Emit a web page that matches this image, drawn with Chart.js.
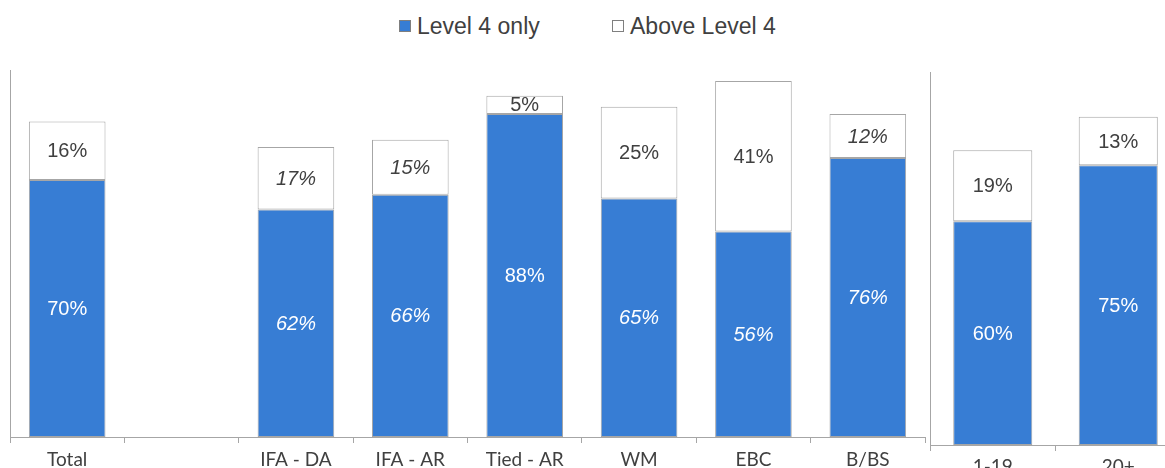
<!DOCTYPE html>
<html>
<head>
<meta charset="utf-8">
<script src="https://cdn.jsdelivr.net/npm/chart.js@4.4.1/dist/chart.umd.min.js"></script>
<style>
  html, body { margin: 0; padding: 0; background: #fff; overflow: hidden; }
  #page { position: relative; width: 1165px; height: 468px; overflow: hidden; }
  #legend { position: absolute; top: 13px; left: 0; width: 1165px; height: 30px;
            font-family: "Liberation Sans", Arial, sans-serif; font-size: 23px; color: #404040; }
  .item { position: absolute; top: 0; white-space: nowrap; }
  .box { display: inline-block; width: 10px; height: 10px; margin-right: 6px; vertical-align: 2px; }
  #mainWrap { position: absolute; left: 0; top: 0; width: 928px; height: 476px; }
  #sizeWrap { position: absolute; left: 926px; top: 0; width: 260px; height: 490px; }
</style>
</head>
<body>
<div id="page">
  <div id="legend">
    <span class="item" style="left:399px"><span class="box" style="background:#377DD4;border:1px solid #7f7f7f"></span>Level 4 only</span>
    <span class="item" style="left:612px"><span class="box" style="background:#fff;border:1px solid #7f7f7f"></span>Above Level 4</span>
  </div>
  <div id="mainWrap"><canvas id="mainChart"></canvas></div>
  <div id="sizeWrap"><canvas id="sizeChart"></canvas></div>
</div>
<script>
// data
const categoriesMain = ['Total', '', 'IFA - DA', 'IFA - AR', 'Tied - AR', 'WM', 'EBC', 'B/BS'];
const level4Main = [70, null, 62, 66, 88, 65, 56, 76];
const aboveMain = [16, null, 17, 15, 5, 25, 41, 12];

const categoriesSize = ['1-19', '20+'];
const level4Size = [60, 75];
const aboveSize = [19, 13];

// which labels are set in italics
const italicLevel4Main = [false, false, true, true, false, true, true, true];
const italicAboveMain = [false, false, true, true, false, false, false, true];

const BLUE = '#377DD4';
const EDGE = '#A6A6A6';
const AXIS = '#A6A6A6';

const segmentLabels = {
  id: 'segmentLabels',
  afterDatasetsDraw(chart) {
    const ctx = chart.ctx;
    ctx.save();
    ctx.textAlign = 'center';
    ctx.textBaseline = 'middle';
    chart.data.datasets.forEach((ds, i) => {
      const meta = chart.getDatasetMeta(i);
      meta.data.forEach((bar, j) => {
        const v = ds.data[j];
        if (v == null) return;
        const p = bar.getProps(['x', 'y', 'base'], true);
        const italic = ds.italic && ds.italic[j];
        ctx.font = (italic ? 'italic ' : '') + '20px "Liberation Sans", Arial, sans-serif';
        ctx.fillStyle = ds.labelColor;
        ctx.fillText(v + '%', p.x, (p.y + p.base) / 2 + 1);
      });
    });
    ctx.restore();
  }
};

function buildChart(canvasId, labels, level4, above, barPct, italic4, italicA, pad, tickPad) {
  const ctx = document.getElementById(canvasId).getContext('2d');
  return new Chart(ctx, {
    type: 'bar',
    data: {
      labels: labels,
      datasets: [
        {
          label: 'Level 4 only',
          data: level4,
          backgroundColor: BLUE,
          borderColor: EDGE,
          borderWidth: 1,
          borderSkipped: false,
          labelColor: '#ffffff',
          italic: italic4
        },
        {
          label: 'Above Level 4',
          data: above,
          backgroundColor: '#ffffff',
          borderColor: EDGE,
          borderWidth: 1,
          borderSkipped: false,
          labelColor: '#404040',
          italic: italicA
        }
      ]
    },
    options: {
      responsive: true,
      maintainAspectRatio: false,
      animation: false,
      layout: { padding: pad },
      datasets: { bar: { categoryPercentage: 1, barPercentage: barPct } },
      scales: {
        x: {
          stacked: true,
          grid: { display: true, drawOnChartArea: false, drawTicks: true, tickLength: 6, color: AXIS, offset: true },
          border: { display: true, color: AXIS, width: 1 },
          ticks: {
            color: '#404040',
            padding: tickPad,
            maxRotation: 0,
            autoSkip: false,
            font: { family: 'Lato, "Open Sans", sans-serif', size: 19, lineHeight: 1 }
          }
        },
        y: {
          stacked: true,
          min: 0,
          max: 100,
          grid: { display: false, drawTicks: false },
          border: { display: true, color: AXIS, width: 1 },
          ticks: { display: false }
        }
      },
      plugins: {
        legend: { display: false },
        tooltip: { enabled: false }
      }
    },
    plugins: [segmentLabels]
  });
}

buildChart('mainChart', categoriesMain, level4Main, aboveMain, 0.67,
  italicLevel4Main, italicAboveMain, { top: 70, left: 10, right: 3, bottom: 0 }, 7);
buildChart('sizeChart', categoriesSize, level4Size, aboveSize, 0.63,
  null, null, { top: 72, left: 4, right: 5, bottom: 8 }, 6);
</script>
</body>
</html>
